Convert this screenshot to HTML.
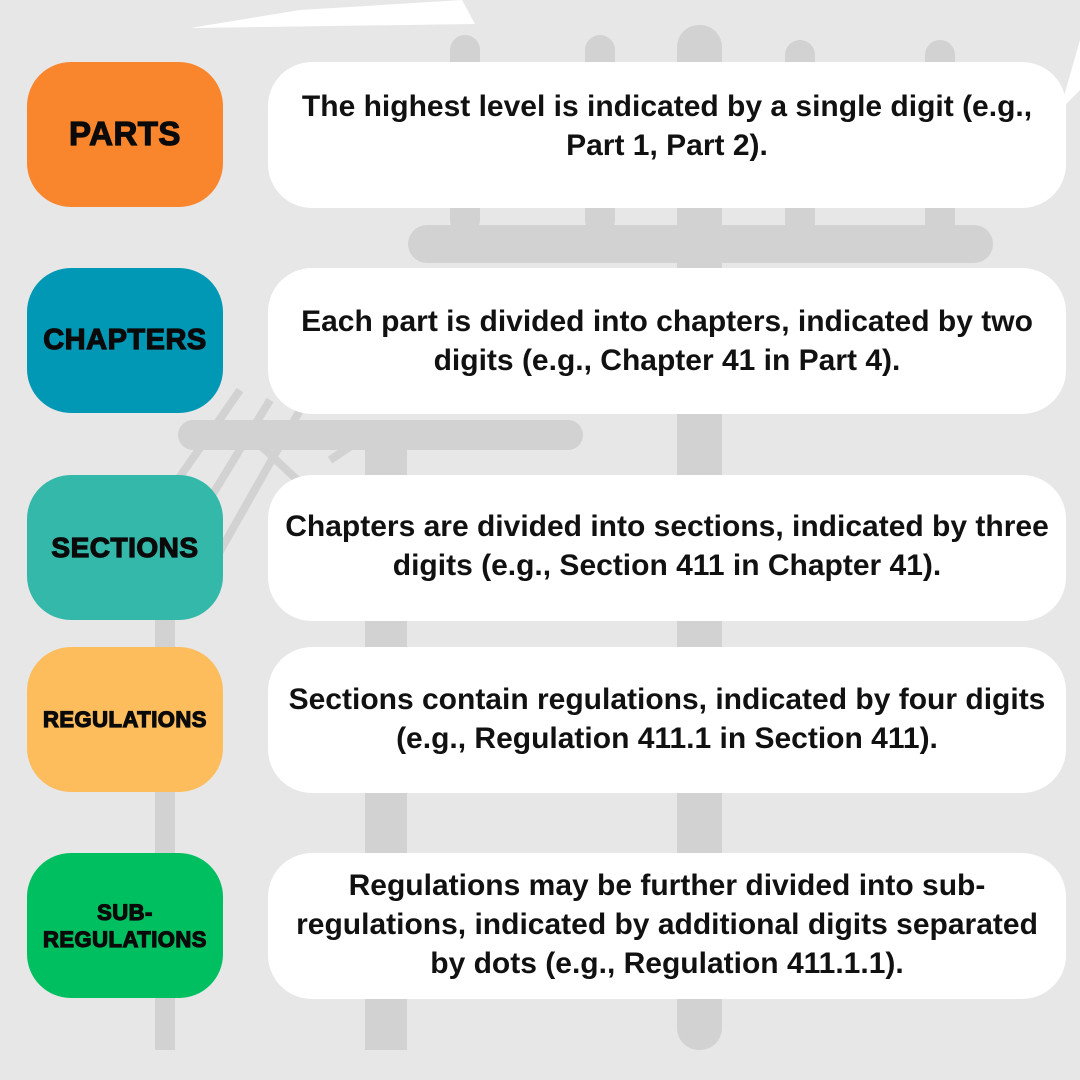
<!DOCTYPE html>
<html><head><meta charset="utf-8">
<style>
html,body{margin:0;padding:0}
body{width:1080px;height:1080px;position:relative;overflow:hidden;background:#e7e7e7;font-family:"Liberation Sans",sans-serif}
.pill{position:absolute;left:27px;width:196px;height:145px;border-radius:44px;display:flex;align-items:center;justify-content:center;text-align:center;font-weight:900;color:#0a0a0a;letter-spacing:0.5px;-webkit-text-stroke:1.2px #0a0a0a;line-height:1.05}
.box{position:absolute;left:268px;width:798px;height:146px;border-radius:44px;background:#fff;display:flex;align-items:center;justify-content:center;text-align:center;font-weight:700;font-size:30px;letter-spacing:0;line-height:39px;color:#111;white-space:nowrap;box-sizing:border-box}
</style></head><body>
<svg width="1080" height="1080" style="position:absolute;left:0;top:0">
 <polygon points="190,28 475,24 462,0 300,10" fill="#ffffff"/>
 <polygon points="1060,110 1080,40 1080,90" fill="#ffffff"/>
 <rect x="677" y="25" width="45" height="1025" rx="22" fill="#d2d2d2"/>
 <rect x="365" y="420" width="42" height="630" fill="#d2d2d2"/>
 <rect x="155" y="600" width="20" height="450" fill="#d2d2d2"/>
 <rect x="408" y="225" width="585" height="38" rx="19" fill="#d2d2d2"/>
 <rect x="178" y="420" width="405" height="30" rx="15" fill="#d2d2d2"/>
 <rect x="450" y="35" width="30" height="200" rx="15" fill="#d2d2d2"/>
 <rect x="585" y="35" width="30" height="200" rx="15" fill="#d2d2d2"/>
 <rect x="785" y="40" width="30" height="200" rx="15" fill="#d2d2d2"/>
 <rect x="925" y="40" width="30" height="200" rx="15" fill="#d2d2d2"/>
 <path d="M150,520 L240,390 M185,540 L270,400 M215,560 L300,410 M260,445 L340,520 M330,460 L360,440" stroke="#d2d2d2" stroke-width="8" fill="none"/>
</svg>

<div class="pill" style="top:62px;background:#f9852d;font-size:33px">PARTS</div>
<div class="box" style="top:62px;padding-bottom:18px">The highest level is indicated by a single digit (e.g.,<br>Part 1, Part 2).</div>

<div class="pill" style="top:268px;background:#0098b5;font-size:29px">CHAPTERS</div>
<div class="box" style="top:268px">Each part is divided into chapters, indicated by two<br>digits (e.g., Chapter 41 in Part 4).</div>

<div class="pill" style="top:475px;background:#33b8aa;font-size:28px">SECTIONS</div>
<div class="box" style="top:475px;padding-bottom:4px">Chapters are divided into sections, indicated by three<br>digits (e.g., Section 411 in Chapter 41).</div>

<div class="pill" style="top:647px;background:#fdbd5c;font-size:22px">REGULATIONS</div>
<div class="box" style="top:647px;padding-bottom:2px">Sections contain regulations, indicated by four digits<br>(e.g., Regulation 411.1 in Section 411).</div>

<div class="pill" style="top:853px;background:#00bf60;font-size:22px;line-height:27px">SUB-<br>REGULATIONS</div>
<div class="box" style="top:853px;padding-bottom:4px">Regulations may be further divided into sub-<br>regulations, indicated by additional digits separated<br>by dots (e.g., Regulation 411.1.1).</div>
</body></html>
